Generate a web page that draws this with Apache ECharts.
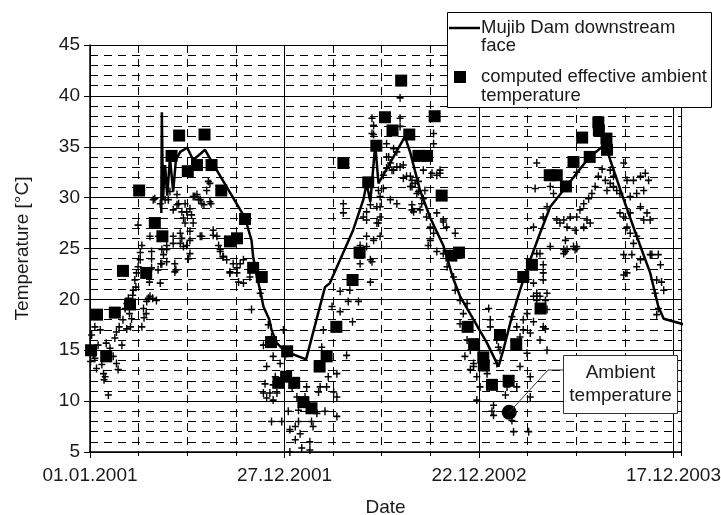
<!DOCTYPE html>
<html>
<head>
<meta charset="utf-8">
<script src="https://cdn.jsdelivr.net/npm/echarts@6/dist/echarts.min.js"></script>
<style>
  html, body { margin: 0; padding: 0; background: #fff; }
  #chart { width: 721px; height: 515px; }
</style>
</head>
<body>
<div id="chart"></div>
<script>
// Day offsets are counted from 01.01.2001.
const xTickLabels = ['01.01.2001', '27.12.2001', '22.12.2002', '17.12.2003'];
const xTickStep = 360;
const xMaxDay = 1094;
const yMin = 5, yMax = 45, yStep = 5;

// Mujib Dam downstream face (measured)
const damDays = [132,133,135,139,143,148,154,159,167,180,191,213,228,287,299,302,309,315,321,332,
  336,346,361,400,435,444,487,506,512,519,528,534,583,593,611,630,654,672,685,710,
  735,756,765,781,796,815,833,852,876,901,923,948,954,963,988,1012,1037,1052,1062,1102];
const damTemps = [28.5,38.4,29.8,33.2,30.2,33.9,30.6,33.7,34.5,34.9,33.7,34.7,33.3,28.0,25.8,24.2,22.2,20.9,19.3,18.0,
  17.0,15.7,14.9,14.1,21.2,21.6,26.8,29.8,31.4,29.6,35.2,31.4,36.0,34.4,30.7,28.0,25.3,22.1,20.3,18.0,
  15.7,13.4,15.0,18.3,20.9,23.9,26.5,29.1,30.7,32.4,33.9,35.0,35.2,33.7,29.8,26.2,22.6,19.3,18.1,17.5];

// Computed effective ambient temperature
const effDays = [2,13,30,46,61,74,91,104,120,134,151,165,181,198,212,225,243,259,272,287,
  302,318,335,349,363,365,378,395,410,425,438,456,469,486,499,515,530,546,560,576,
  591,608,624,638,651,669,683,699,711,728,729,744,759,775,789,802,818,834,851,864,
  881,895,911,925,941,942,956,957];
const effTemps = [15.0,18.5,14.4,18.7,22.8,19.5,30.7,22.6,27.5,26.2,34.1,36.1,32.6,33.2,36.2,33.2,30.7,25.7,26.0,27.9,
  23.1,22.2,15.8,11.8,12.4,14.9,11.8,9.9,9.3,13.4,14.4,17.3,33.4,21.9,24.6,31.5,35.1,37.9,36.6,41.5,
  36.2,34.1,34.1,38.0,30.2,24.3,24.6,17.3,15.6,14.3,13.5,11.6,16.5,12.0,15.6,22.2,23.4,19.1,32.2,32.2,
  31.1,33.5,35.9,34.0,37.4,36.6,35.8,34.7];

// Ambient temperature readings [day, °C]
const ambient2001 = [
  [3,16.5],[6,14.5],[1,13.9],[9,14.2],[12,13.2],[22,13.6],[25,12.7],[26,12.1],[28,12.4],[34,10.6],[19,17.0],[9,17.3],
  [15,15.5],[30,15.7],[37,15.2],[46,16.2],[49,16.8],[43,14.4],[49,13.7],[52,13.1],[59,15.5],[54,17.3],[61,18.0],[65,19.1],
  [68,19.6],[71,20.1],[73,18.6],[77,18.1],[68,17.1],[75,17.3],[79,20.4],[80,20.9],[85,21.2],[83,21.9],[86,22.6],[89,23.2],
  [93,23.9],[93,24.6],[96,25.3],[99,19.1],[100,18.2],[104,18.6],[96,17.3],[105,19.8],[108,20.1],[111,20.3],[116,20.1],
  [123,19.9],[110,21.7],[114,23.1],[114,24.0],[126,22.9],[130,21.6],[131,23.5],[133,24.9],[136,24.4],[142,25.3],[142,23.7],
  [154,26.2],[159,22.9],[167,25.5],[170,26.0],[173,25.2],[179,25.3],[185,25.8],[182,24.0],[185,24.5],[207,26.2],[228,26.3],
  [238,25.3],[241,24.7],[246,24.2],[253,23.9],[259,22.6],[265,23.5],[272,23.1],[275,21.7],
  [89,27.3],[117,29.8],[130,29.4],[145,29.8],[154,28.8],[161,29.3],[170,28.6],[176,29.4],[179,28.6],[185,28.9],[188,28.3],
  [194,30.1],[198,30.3],[204,29.8],[207,29.4],[211,29.3],[216,30.7],[219,31.6],[222,31.4],[224,29.4],[148,30.6],[161,30.3],
  [120,29.9],[139,29.8],[164,29.4],[191,30.1],[201,29.8],[222,29.6],[204,26.2],[185,26.7],[167,26.5],[154,25.5],[142,24.9],
  [133,23.5],[157,23.5],[157,22.7],[182,24.0],[228,26.8],[235,26.2],[241,24.9],[247,24.2],[259,22.7],[272,22.6],[284,21.6],
  [278,23.5],[114,24.7],[127,26.2],[111,26.2],[173,28.0],[191,27.5],[176,27.5],
  [284,23.9],[296,22.2],[299,19.0],[315,20.6],[330,17.5],[336,16.3],[321,15.5],[339,14.4],[327,13.4],[324,11.7],[321,10.8],
  [333,10.8],[346,10.8],[339,10.1],[336,8.0],[355,8.0],[358,17.0],[361,14.4],[352,13.7],[343,12.4],[327,10.3],[339,11.6]
];
const ambient2002 = [
  [367,9.0],[370,7.2],[380,7.5],[386,8.0],[389,6.8],[380,6.2],[392,5.4],[407,6.0],[407,5.2],[370,5.0],[413,7.5],[420,8.8],
  [423,10.9],[401,11.4],[398,10.4],[426,11.4],[438,11.4],[451,10.9],[435,9.0],[457,8.5],[457,10.4],[441,12.4],[457,12.7],
  [429,15.3],[432,17.0],[448,19.3],[463,18.8],[478,19.8],[463,20.8],[481,20.9],[497,19.8],[486,17.8],[475,14.5],[519,21.7],
  [522,23.7],[500,23.5],[512,25.2],[374,11.3],[383,10.4],[386,9.1],[401,9.9],[410,8.0],
  [469,29.4],[469,28.5],[522,37.8],[525,37.1],[525,36.2],[574,39.8],[574,37.8],[574,37.0],[562,34.8],[549,34.0],[549,32.9],
  [556,33.4],[562,32.7],[568,33.0],[580,33.2],[586,32.1],[596,31.7],[602,31.4],[593,31.1],[605,30.4],[614,29.4],[620,30.7],
  [633,32.4],[648,32.4],[636,36.3],[636,35.3],[534,30.7],[537,30.1],[543,30.9],[512,28.6],[531,29.1],[537,28.1],[512,27.8],
  [531,27.5],[556,29.8],[568,29.4],[596,29.3],[599,28.6],[611,28.8],[623,28.1],[642,28.5],[654,27.6],
  [522,36.3],[549,35.3],[568,34.5],[553,34.0],[574,33.0],[559,32.7],[543,32.2],[580,31.9],[593,32.1],[608,31.6],[617,32.7],
  [642,32.2],[648,32.7],[596,31.1],[608,30.6],[617,29.9],[596,28.8],[537,29.1],[519,29.3],[506,28.1],[534,27.5],[512,26.2],
  [525,25.8],[537,26.2],[500,25.3],[519,23.9],[630,27.1],[636,26.5],[654,27.8],[660,27.1],[676,26.5],[642,24.7],[630,25.8],
  [626,25.3],
  [654,24.5],[661,23.2],[673,22.2],[676,20.9],[685,19.9],[698,19.6],[691,18.6],[685,17.6],[698,16.0],[704,15.0],[694,14.4],
  [710,13.7],[704,13.1],[716,12.4],[722,11.4],[716,10.1],[710,13.4]
];
const ambient2003 = [
  [735,12.7],[741,18.0],[738,19.1],[741,17.3],[753,16.0],[756,15.3],[744,9.0],[747,8.6],[769,10.6],[781,8.1],[784,7.0],
  [812,7.0],[772,11.4],[790,11.4],[796,13.4],[809,14.7],[790,17.3],[802,17.0],[815,16.7],[809,18.6],[827,20.3],[846,20.6],
  [839,17.3],[833,16.0],[846,15.0],[781,18.3],[802,18.0],[796,16.3],[759,15.0],[753,13.7],[815,12.4],[815,10.4],[839,21.9],
  [833,24.5],[883,24.9],[880,25.8],[901,25.2],[747,9.6],
  [948,32.8],[941,32.1],[954,31.7],[963,31.4],[969,31.1],[957,30.7],[975,30.7],[981,30.4],[935,31.1],[929,30.4],[923,29.9],
  [914,29.4],[907,28.8],[901,28.1],[889,28.1],[877,27.8],[883,27.1],[870,27.5],[864,27.8],[846,29.1],[858,30.4],[852,31.1],
  [839,28.1],[877,24.9],[895,25.2],[920,27.8],[926,27.5],[914,27.1],[898,26.8],[994,31.7],[1006,31.7],[1019,32.1],[1028,32.4],
  [1034,31.7],[1025,30.7],[1012,30.4],[1000,30.1],[1019,29.1],[1031,28.5],[1037,27.8],[1025,27.8],[1000,28.5],[988,28.1],
  [981,28.5],[994,27.1],[1000,26.5],[1012,26.2],[1006,25.5],[988,33.4],[963,32.7],[969,32.1],[1037,24.4],[1052,24.4],
  [1056,23.4],[1049,21.9],[1058,21.7],[1062,20.9],[1046,20.6],[1052,19.1],[1049,18.5],[994,22.6],[988,24.4],[1012,23.2],
  [1019,23.9],[827,24.5],[821,27.1],[839,23.4],[839,22.6],[821,21.6],[821,20.3],[827,20.6],[843,19.9],[843,17.1],[821,17.8],
  [901,32.5],[827,33.4],[824,30.9],[852,25.2],[877,24.5],[898,24.9],
  [988,22.4],[1003,24.4],[1040,24.4],[901,25.0],[880,24.7],[846,19.0],[833,20.3],[827,19.9]
];

// Highlighted ambient reading with callout
const markedDay = 776, markedTemp = 8.9;

const FONT = "'Liberation Sans', Arial, sans-serif";
const FS = 19;
const LEGEND_FS = 18.5;
const plusPath = 'path://M4,0H6V4H10V6H6V10H4V6H0V4H4Z';

const chart = echarts.init(document.getElementById('chart'), null, { renderer: 'canvas' });

const xAxisCommon = { type: 'value', min: 0, max: xMaxDay, gridIndex: 0 };

chart.setOption({
  animation: false,
  backgroundColor: '#fff',
  grid: { left: 90, right: 40, top: 45, bottom: 63, containLabel: false, outerBoundsMode: 'none' },
  xAxis: [
    Object.assign({}, xAxisCommon, {
      interval: xTickStep,
      position: 'bottom',
      name: 'Date',
      nameLocation: 'middle',
      nameGap: 46,
      nameTextStyle: { fontFamily: FONT, fontSize: FS, color: '#1a1a1a' },
      axisLine: { show: true, lineStyle: { color: '#000', width: 1.5 } },
      axisTick: { show: true, length: 6, lineStyle: { color: '#000', width: 1 } },
      axisLabel: {
        fontFamily: FONT, fontSize: FS, color: '#1a1a1a', margin: 14,
        showMaxLabel: false, hideOverlap: false,
        formatter: function (v) {
          return v % xTickStep === 0 ? (xTickLabels[v / xTickStep] || '') : '';
        }
      },
      splitLine: { show: true, lineStyle: { color: '#000', width: 1, type: 'solid' } },
      z: 3
    }),
    Object.assign({}, xAxisCommon, {
      interval: 90,
      position: 'bottom',
      axisLine: { show: false },
      axisTick: { show: true, length: 4, lineStyle: { color: '#000', width: 1 } },
      axisLabel: { show: false },
      splitLine: { show: true, lineStyle: { color: '#000', width: 1, type: [8, 6] } },
      z: 2
    })
  ],
  yAxis: {
    type: 'value', min: yMin, max: yMax, interval: yStep,
    name: 'Temperature [°C]',
    nameLocation: 'middle',
    nameGap: 58,
    nameTextStyle: { fontFamily: FONT, fontSize: FS, color: '#1a1a1a' },
    axisLine: { show: true, lineStyle: { color: '#000', width: 1.5 } },
    axisTick: { show: true, length: 6, lineStyle: { color: '#000', width: 1 } },
    axisLabel: { fontFamily: FONT, fontSize: FS, color: '#1a1a1a', margin: 10 },
    splitLine: { show: true, lineStyle: { color: '#000', width: 1 } },
    minorTick: { show: true, splitNumber: 5, length: 0 },
    minorSplitLine: { show: true, lineStyle: { color: '#000', width: 1, type: [8, 6] } }
  },
  series: [
    {
      name: 'Ambient temperature',
      type: 'scatter',
      xAxisIndex: 0,
      symbol: plusPath,
      symbolSize: [7, 8],
      itemStyle: { color: '#000', opacity: 1 },
      silent: true,
      z: 2,
      data: ambient2001.concat(ambient2002, ambient2003)
    },
    {
      name: 'computed effective ambient temperature',
      type: 'scatter',
      xAxisIndex: 0,
      symbol: 'rect',
      symbolSize: 12,
      itemStyle: { color: '#000', opacity: 1 },
      silent: true,
      z: 3,
      data: effDays.map((d, i) => [d, effTemps[i]])
    },
    {
      name: 'Mujib Dam downstream face',
      type: 'line',
      xAxisIndex: 0,
      showSymbol: false,
      clip: false,
      lineStyle: { color: '#000', width: 2.5 },
      silent: true,
      z: 4,
      data: damDays.map((d, i) => [d, damTemps[i]])
    },
    {
      name: 'marked',
      type: 'scatter',
      xAxisIndex: 0,
      symbol: 'circle',
      symbolSize: 15,
      itemStyle: { color: '#000', opacity: 1 },
      silent: true,
      z: 5,
      data: [[markedDay, markedTemp]]
    }
  ]
});

// Legend box and callout
const dot = chart.convertToPixel({ xAxisIndex: 0, yAxisIndex: 0 }, [markedDay, markedTemp]);
const callout = { x: 563, y: 355, w: 114, h: 58 };
const elbowY = callout.y + 15;

chart.setOption({
  graphic: [
    {
      type: 'rect', z: 100,
      shape: { x: 447.5, y: 12.5, width: 264, height: 95 },
      style: { fill: '#fff', stroke: '#000', lineWidth: 1 }
    },
    {
      type: 'line', z: 101,
      shape: { x1: 449, y1: 28, x2: 480, y2: 28 },
      style: { stroke: '#000', lineWidth: 2.5 }
    },
    {
      type: 'text', z: 101, x: 481, y: 19,
      style: { text: 'Mujib Dam downstream\nface', font: LEGEND_FS + 'px ' + FONT, fill: '#1a1a1a', lineHeight: 18 }
    },
    {
      type: 'rect', z: 101,
      shape: { x: 454, y: 71, width: 12, height: 12 },
      style: { fill: '#000' }
    },
    {
      type: 'text', z: 101, x: 481, y: 67,
      style: { text: 'computed effective ambient\ntemperature', font: LEGEND_FS + 'px ' + FONT, fill: '#1a1a1a', lineHeight: 19 }
    },
    {
      type: 'polyline', z: 100,
      shape: { points: [[callout.x, elbowY], [callout.x - 15, elbowY], [dot[0], dot[1]]] },
      style: { stroke: '#333', lineWidth: 1, fill: null }
    },
    {
      type: 'rect', z: 100,
      shape: { x: callout.x + 0.5, y: callout.y + 0.5, width: callout.w, height: callout.h },
      style: { fill: '#fff', stroke: '#333', lineWidth: 1 }
    },
    {
      type: 'text', z: 101, x: callout.x + callout.w / 2 + 0.5, y: callout.y + callout.h / 2 + 0.5,
      style: {
        text: 'Ambient\ntemperature', font: FS + 'px ' + FONT, fill: '#1a1a1a',
        align: 'center', verticalAlign: 'middle', lineHeight: 23
      }
    }
  ]
});
</script>
</body>
</html>
